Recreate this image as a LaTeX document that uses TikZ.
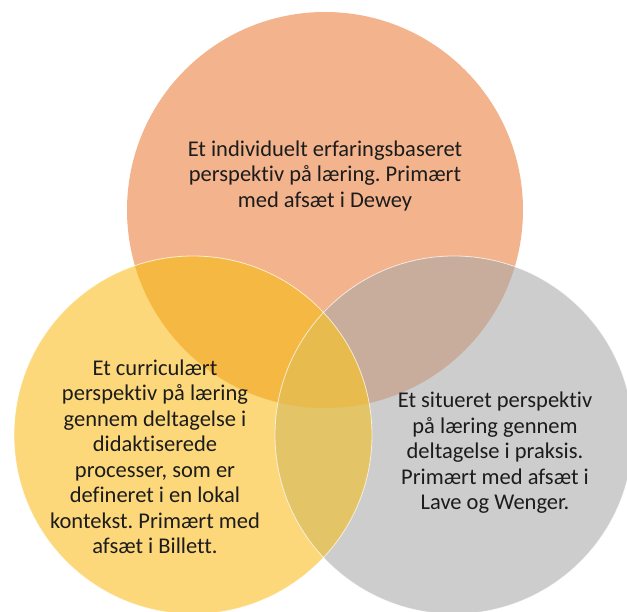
\documentclass[tikz,border=0pt]{standalone}
\usepackage{fontspec}
\setmainfont{Carlito}[Ligatures=NoCommon]
\frenchspacing
\definecolor{topc}{HTML}{F3B48D}
\definecolor{leftc}{HTML}{FCD87A}
\definecolor{rightc}{HTML}{CDCDCD}
\definecolor{tlc}{HTML}{F5B843}
\definecolor{trc}{HTML}{C8AC9C}
\definecolor{lrc}{HTML}{E3C466}
\definecolor{allc}{HTML}{E8BB4E}
\definecolor{txt}{HTML}{1C1C1C}
\begin{document}
\begin{tikzpicture}[x=1pt,y=-1pt,
  rim/.style={draw=white,line width=0.8pt,opacity=0.7},
  label/.style={text=txt,align=center,font=\fontsize{22.5}{25.5}\selectfont,inner sep=0pt}]
\useasboundingbox (0,0) rectangle (627,612);
\clip (0,0) rectangle (627,612);
\coordinate (T) at (325,210);
\coordinate (L) at (193,435);
\coordinate (R) at (454,435);
\fill[topc] (T) circle[radius=198pt];
\fill[leftc] (L) circle[radius=179pt];
\fill[rightc] (R) circle[radius=179pt];
\begin{scope}
  \clip (T) circle[radius=198pt];
  \fill[tlc] (L) circle[radius=179pt];
  \fill[trc] (R) circle[radius=179pt];
\end{scope}
\begin{scope}
  \clip (L) circle[radius=179pt];
  \fill[lrc] (R) circle[radius=179pt];
  \clip (T) circle[radius=198pt];
  \fill[allc] (R) circle[radius=179pt];
\end{scope}
\draw[rim] (L) circle[radius=179pt];
\draw[rim] (R) circle[radius=179pt];
\node[label] (ttop) at (325,176) {Et individuelt erfaringsbaseret\\perspektiv på læring. Primært\\med afsæt i Dewey};
\node[label] (tleft) at (155,457) {Et curriculært\\perspektiv på læring\\gennem deltagelse i\\didaktiserede\\processer, som er\\defineret i en lokal\\kontekst. Primært med\\afsæt i Billett.};
\node[label] (tright) at (495,453) {Et situeret perspektiv\\på læring gennem\\deltagelse i praksis.\\Primært med afsæt i\\Lave og Wenger.};
\end{tikzpicture}
\end{document}
